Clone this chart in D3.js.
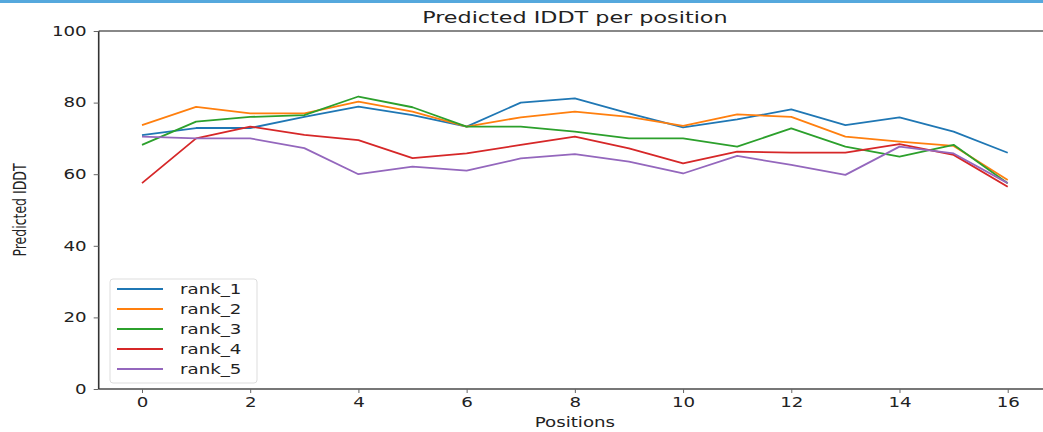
<!DOCTYPE html>
<html>
<head>
<meta charset="utf-8">
<script src="https://cdn.jsdelivr.net/npm/d3@7"></script>
<style>
  body { margin: 0; background: #fff; }
  text { font-family: "DejaVu Sans", sans-serif; fill: #222; }
</style>
</head>
<body>
<script>
// positions along the sequence
var positions = d3.range(0, 17);

// predicted IDDT per rank
var rank_1 = [70.9, 72.9, 72.9, 76.0, 78.9, 76.5, 73.3, 80.0, 81.2, 77.0, 73.1, 75.3, 78.1, 73.7, 75.9, 71.9, 66.0];
var rank_2 = [73.7, 78.8, 77.0, 77.0, 80.3, 77.5, 73.3, 75.9, 77.5, 76.0, 73.5, 76.7, 76.0, 70.5, 69.1, 67.9, 58.4];
var rank_3 = [68.2, 74.7, 76.0, 76.5, 81.7, 78.7, 73.3, 73.3, 71.9, 70.0, 70.0, 67.7, 72.8, 67.7, 64.9, 68.2, 57.5];
var rank_4 = [57.5, 70.0, 73.3, 71.0, 69.5, 64.5, 65.8, 68.2, 70.5, 67.2, 63.0, 66.3, 66.0, 66.0, 68.4, 65.4, 56.5];
var rank_5 = [70.5, 70.0, 70.0, 67.3, 60.0, 62.1, 61.0, 64.4, 65.6, 63.5, 60.2, 65.1, 62.6, 59.8, 67.7, 65.8, 57.5];

var seriesNames = ["rank_1", "rank_2", "rank_3", "rank_4", "rank_5"];
var seriesValues = [rank_1, rank_2, rank_3, rank_4, rank_5];
var colors = ["#1f77b4", "#ff7f0e", "#2ca02c", "#d62728", "#9467bd"];

var yTicks = [0, 20, 40, 60, 80, 100];
var xTicks = [0, 2, 4, 6, 8, 10, 12, 14, 16];

function drawChart() {
    var W = 1043, H = 432;
    var sx = 1.35; // the picture is stretched sideways, text too

    var svg = d3.select("body").append("svg")
        .attr("width", W)
        .attr("height", H);

    // blue strip at the very top
    svg.append("rect")
        .attr("x", 0).attr("y", 0)
        .attr("width", W).attr("height", 3)
        .attr("fill", "#55a8dd");

    // plot box
    var pLeft = 98.7, pRight = 1051, pTop = 31, pBottom = 389;

    var x = d3.scaleLinear().domain([-0.8, 16.8]).range([pLeft, pRight]);
    var y = d3.scaleLinear().domain([0, 100]).range([pBottom, pTop]);

    // lines
    var line = d3.line()
        .x(function(d, i) { return x(positions[i]); })
        .y(function(d) { return y(d); });

    seriesValues.forEach(function(vals, k) {
        svg.append("path")
            .datum(vals)
            .attr("fill", "none")
            .attr("stroke", colors[k])
            .attr("stroke-width", 1.8)
            .attr("stroke-linejoin", "round")
            .attr("d", line);
    });

    // spines
    svg.append("line")
        .attr("x1", pLeft).attr("x2", pRight)
        .attr("y1", pTop).attr("y2", pTop)
        .attr("stroke", "#888").attr("stroke-width", 2);
    svg.append("line")
        .attr("x1", pLeft).attr("x2", pRight)
        .attr("y1", pBottom).attr("y2", pBottom)
        .attr("stroke", "#777").attr("stroke-width", 2);
    svg.append("line")
        .attr("x1", pLeft).attr("x2", pLeft)
        .attr("y1", pTop).attr("y2", pBottom)
        .attr("stroke", "#333").attr("stroke-width", 1.6);

    // axes
    var xAxis = svg.append("g")
        .attr("transform", "translate(0," + pBottom + ")")
        .call(d3.axisBottom(x).tickValues(xTicks).tickSize(4).tickPadding(4).tickFormat(d3.format("d")));
    xAxis.select(".domain").remove();
    xAxis.selectAll("line").attr("stroke", "#666");
    xAxis.selectAll("text")
        .attr("font-size", 13.5)
        .attr("font-family", "DejaVu Sans")
        .attr("fill", "#333")
        .attr("transform", "scale(" + sx + ",1)");

    var yAxis = svg.append("g")
        .attr("transform", "translate(" + pLeft + ",0)")
        .call(d3.axisLeft(y).tickValues(yTicks).tickSize(5).tickFormat(d3.format("d")));
    yAxis.select(".domain").remove();
    yAxis.selectAll("line").attr("stroke", "#666");
    yAxis.selectAll("text")
        .attr("x", -12 / sx)
        .attr("font-size", 13.5)
        .attr("font-family", "DejaVu Sans")
        .attr("fill", "#333")
        .attr("transform", "scale(" + sx + ",1)");

    // title
    svg.append("text")
        .attr("transform", "translate(" + ((pLeft + pRight) / 2) + ",23) scale(" + sx + ",1)")
        .attr("text-anchor", "middle")
        .attr("font-size", 16.5)
        .attr("fill", "#333")
        .text("Predicted IDDT per position");

    // x label
    svg.append("text")
        .attr("transform", "translate(" + ((pLeft + pRight) / 2) + ",427) scale(" + sx + ",1)")
        .attr("text-anchor", "middle")
        .attr("font-size", 13.5)
        .attr("fill", "#333")
        .text("Positions");

    // y label
    svg.append("text")
        .attr("transform", "translate(26," + ((pTop + pBottom) / 2) + ") scale(" + sx + ",1) rotate(-90)")
        .attr("text-anchor", "middle")
        .attr("font-size", 12.5)
        .attr("fill", "#333")
        .text("Predicted IDDT");

    // legend
    var legend = svg.append("g").attr("transform", "translate(110,279)");
    legend.append("rect")
        .attr("width", 147).attr("height", 104)
        .attr("rx", 3)
        .attr("fill", "#fff").attr("fill-opacity", 0.8)
        .attr("stroke", "#ddd");

    seriesNames.forEach(function(name, k) {
        var g = legend.append("g").attr("transform", "translate(0," + (10 + k * 20) + ")");
        g.append("line")
            .attr("x1", 7).attr("x2", 53)
            .attr("stroke", colors[k]).attr("stroke-width", 1.8);
        g.append("text")
            .attr("transform", "translate(70,5) scale(" + sx + ",1)")
            .attr("font-size", 13.5)
            .attr("fill", "#333")
            .text(name);
    });
}

drawChart();
</script>
</body>
</html>
